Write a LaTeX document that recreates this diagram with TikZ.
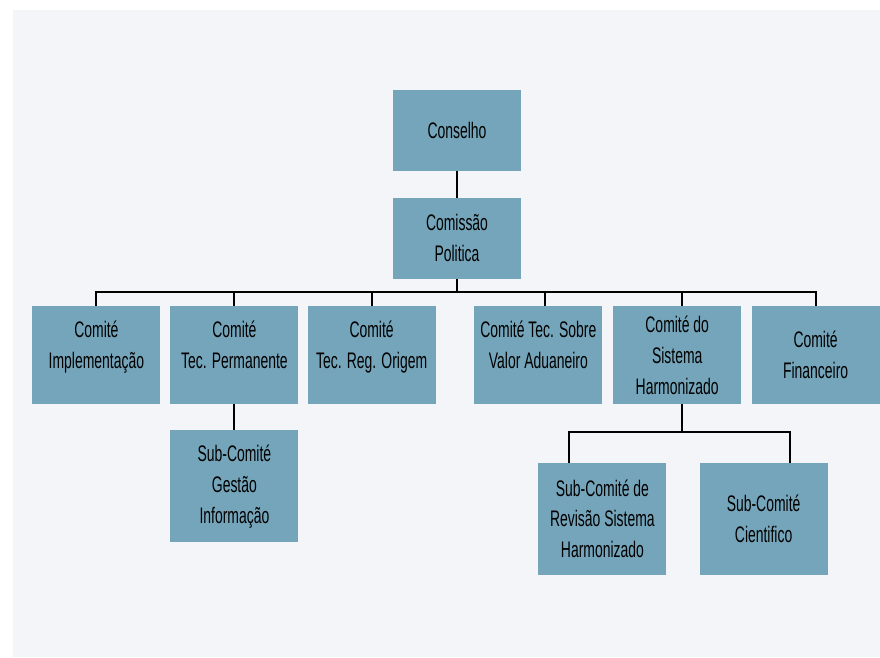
\documentclass[tikz,border=0pt]{standalone}
\usepackage{fontspec}
\setmainfont{Liberation Sans}[FakeStretch=0.62]
\usetikzlibrary{positioning}
\definecolor{boxblue}{HTML}{75A5BA}
\definecolor{panelgrey}{HTML}{F3F5F9}
\tikzset{
  orgbox/.style={rectangle,fill=boxblue,minimum width=3.2cm,minimum height=2.45cm,inner sep=1pt,align=center,font=\fontsize{16}{22}\selectfont},
  raisedbox/.style={orgbox,text depth=0.5cm},
  topbox/.style={orgbox,minimum height=2.025cm},
  subbox/.style={orgbox,minimum height=2.8cm},
  link/.style={draw=black,line width=1.5pt}
}

\begin{document}
\begin{tikzpicture}
        % Panel first, then the boxes, then the tree of lines.
        \useasboundingbox (0,0) rectangle (22,-16.425);
        \fill[panelgrey] (0.325,-0.25) rectangle (22,-16.425);
        \node[topbox] (cons) at (11.425,-3.26) {Conselho};
        \node[topbox] (comp) at (11.425,-5.96) {Comissão\\Politica};
        \node[raisedbox] (impl) at (2.41,-8.875) {Comité\\Implementação};
        \node[raisedbox] (perm) at (5.86,-8.875) {Comité\\Tec. Permanente};
        \node[raisedbox] (orig) at (9.29,-8.875) {Comité\\Tec. Reg. Origem};
        \node[raisedbox] (valr) at (13.46,-8.875) {Comité Tec. Sobre\\Valor Aduaneiro};
        \node[orgbox] (harm) at (16.93,-8.875) {Comité do\\Sistema\\Harmonizado};
        \node[orgbox] (fina) at (20.39,-8.875) {Comité\\Financeiro};
        \node[subbox] (gest) at (5.86,-12.16) {Sub-Comité\\Gestão\\Informação};
        \node[subbox] (revi) at (15.06,-12.97) {Sub-Comité de\\Revisão Sistema\\Harmonizado};
        \node[subbox] (cien) at (19.09,-12.97) {Sub-Comité\\Cientifico};
        \coordinate (bus) at (11.425,-7.3);
        \coordinate (valx) at (13.625,-7.3);
        \coordinate (harx) at (17.05,-7.3);
        \coordinate (subbus) at (17.05,-10.8);
        \coordinate (revx) at (14.225,-10.8);
        \coordinate (cienx) at (19.75,-10.8);
        \draw[link] (cons) -- (comp);
        \draw[link] (comp) -- (bus);
        \draw[link] (impl.north) |- (bus) -| (fina.north);
        \draw[link] (perm.north) -- (perm.north |- bus);
        \draw[link] (orig.north) -- (orig.north |- bus);
        \draw[link] (valx) -- (valx |- valr.north);
        \draw[link] (harx) -- (harx |- harm.north);
        \draw[link] (perm) -- (gest);
        \draw[link] (subbus |- harm.south) -- (subbus);
        \draw[link] (revx |- revi.north) -- (revx) -- (cienx) -- (cienx |- cien.north);
      \end{tikzpicture}
\end{document}
